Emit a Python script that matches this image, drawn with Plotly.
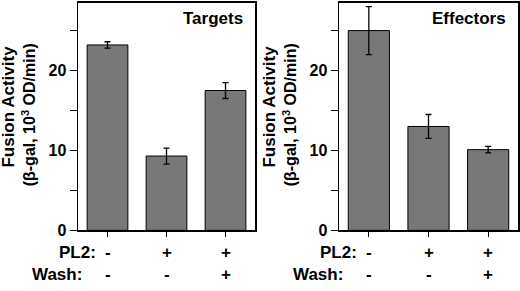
import plotly.graph_objects as go

# ---- data ----
categories = ["c1", "c2", "c3"]
pl2_signs = ["-", "+", "+"]
wash_signs = ["-", "-", "+"]

targets_values = [23.2, 9.3, 17.5]
targets_errors = [0.4, 1.0, 1.0]

effectors_values = [25.0, 13.0, 10.1]
effectors_errors = [3.0, 1.5, 0.4]

panel_titles = ["Targets", "Effectors"]
y_title_line1 = "Fusion Activity"
y_title_line2 = "(β-gal, 10<sup>3</sup> OD/min)"
row_labels = ["PL2:", "Wash:"]

W, H = 520, 291
FONT = "Liberation Sans, Arial, Helvetica, sans-serif"
BAR_COLOR = "#787878"

# pixel geometry
panels = [
    dict(x0=78, x1=255, xa="x", ya="y"),
    dict(x0=339, x1=518, xa="x2", ya="y2"),
]
y_top, y_bot = 2.7, 237.7

def px(xp):
    return xp / W

def py(yp):
    return 1 - yp / H

fig = go.Figure()

series = [(targets_values, targets_errors), (effectors_values, effectors_errors)]
for (vals, errs), p in zip(series, panels):
    fig.add_trace(go.Bar(
        x=categories, y=vals,
        xaxis=p["xa"], yaxis=p["ya"],
        marker=dict(color=BAR_COLOR, line=dict(color="black", width=1)),
        error_y=dict(type="data", array=errs, visible=True,
                     color="black", thickness=1.3, width=3),
        width=0.69,
        showlegend=False,
        hoverinfo="skip",
    ))

axis_common_x = dict(
    type="category", range=[-0.5, 2.5], showline=True, mirror=True,
    linecolor="black", linewidth=1.5, ticks="outside", ticklen=5,
    tickwidth=1.3, tickcolor="black", showticklabels=False, showgrid=False,
    zeroline=False, fixedrange=True,
)
axis_common_y = dict(
    range=[0, 28.5], showline=True, mirror=True, linecolor="black",
    linewidth=1.5, ticks="outside", ticklen=7, tickwidth=1.3,
    tickcolor="black", dtick=10, tick0=0, showgrid=False, zeroline=False,
    tickfont=dict(family=FONT, size=16, color="black", weight="bold"),
    minor=dict(dtick=5, tick0=0, ticks="outside", ticklen=7,
               tickwidth=1.3, tickcolor="black", showgrid=False),
    ticklabelstandoff=0, fixedrange=True,
)

fig.update_layout(
    width=W, height=H,
    margin=dict(l=0, r=0, t=0, b=0),
    paper_bgcolor="white", plot_bgcolor="white",
    bargap=0.31,
    xaxis=dict(domain=[px(78), px(255)], anchor="y", **axis_common_x),
    yaxis=dict(domain=[py(y_bot), py(y_top)], anchor="x", **axis_common_y),
    xaxis2=dict(domain=[px(339), px(518)], anchor="y2", **axis_common_x),
    yaxis2=dict(domain=[py(y_bot), py(y_top)], anchor="x2", **axis_common_y),
    font=dict(family=FONT, color="black"),
)

annotations = []
bold = dict(family=FONT, size=17, color="black", weight="bold")
for i, p in enumerate(panels):
    xa = p["xa"]
    # sign rows under categories
    for cat, s1, s2 in zip(categories, pl2_signs, wash_signs):
        annotations.append(dict(x=cat, xref=xa, y=py(261), yref="paper",
                                text=s1, showarrow=False, font=bold,
                                xanchor="center", yanchor="middle"))
        annotations.append(dict(x=cat, xref=xa, y=py(283.5), yref="paper",
                                text=s2, showarrow=False, font=bold,
                                xanchor="center", yanchor="middle"))
    # row labels
    annotations.append(dict(x=px(p["x0"] + 19.5), xref="paper", y=py(261), yref="paper",
                            text=row_labels[0], showarrow=False, font=bold,
                            xanchor="right", yanchor="middle"))
    annotations.append(dict(x=px(p["x0"] + 6), xref="paper", y=py(283.5), yref="paper",
                            text=row_labels[1], showarrow=False, font=bold,
                            xanchor="right", yanchor="middle"))
    # panel title
    annotations.append(dict(x=px(p["x1"] - 10), xref="paper", y=py(19), yref="paper",
                            text=panel_titles[i], showarrow=False,
                            font=dict(family=FONT, size=17, color="black", weight="bold"),
                            xanchor="right", yanchor="middle"))
    # y-axis title (two lines)
    annotations.append(dict(x=px(p["x0"] - 69), xref="paper", y=py(110), yref="paper",
                            text=y_title_line1, showarrow=False, textangle=-90,
                            font=dict(family=FONT, size=17, color="black", weight="bold"),
                            xanchor="center", yanchor="middle"))
    annotations.append(dict(x=px(p["x0"] - 49), xref="paper", y=py(119), yref="paper",
                            text=y_title_line2, showarrow=False, textangle=-90,
                            font=dict(family=FONT, size=16, color="black", weight="bold"),
                            xanchor="center", yanchor="middle"))

fig.update_layout(annotations=annotations)
fig.write_html("out.html",
               config=dict(displayModeBar=False, staticPlot=True),
               post_script="document.body.style.margin='0';document.body.style.overflow='hidden';")
